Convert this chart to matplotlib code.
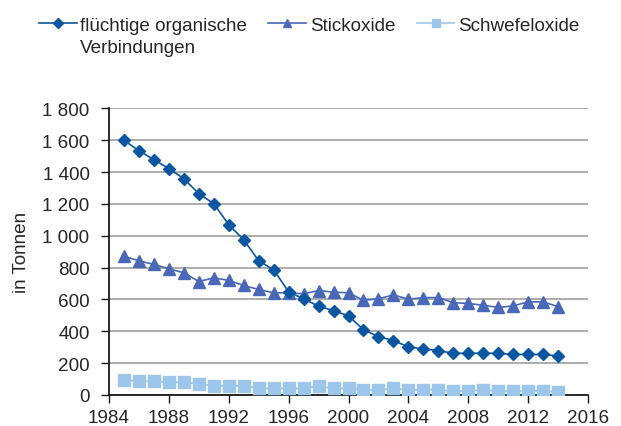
import matplotlib
matplotlib.use("Agg")
import matplotlib.pyplot as plt
from matplotlib.ticker import FuncFormatter

plt.rcParams['font.family'] = ['Liberation Sans', 'DejaVu Sans']

years = list(range(1985, 2015))
voc = [1600, 1535, 1479, 1422, 1359, 1265, 1202, 1070, 975, 843,
       787, 648, 604, 558, 530, 497, 410, 367, 342, 302,
       290, 279, 262, 262, 262, 262, 255, 255, 255, 245]
nox = [872, 843, 820, 793, 768, 713, 736, 720, 688, 663,
       642, 642, 636, 656, 646, 642, 595, 604, 629, 602,
       612, 612, 580, 575, 564, 550, 560, 585, 585, 555]
sox = [96, 86, 86, 80, 80, 69, 59, 59, 59, 42,
       42, 42, 42, 55, 42, 42, 31, 31, 42, 31,
       33, 33, 25, 25, 33, 25, 25, 25, 27, 17]
labels = ["flüchtige organische", "Stickoxide", "Schwefeloxide"]
label_cont = "Verbindungen"
xticks = [1984, 1988, 1992, 1996, 2000, 2004, 2008, 2012, 2016]
yticks = [0, 200, 400, 600, 800, 1000, 1200, 1400, 1600, 1800]

fs = 13.6
fig = plt.figure(figsize=(6.21, 4.27), dpi=100)
ax = fig.add_axes([0.1755, 0.0726, 0.7714, 0.671])

c_voc = "#0A56A0"
c_nox = "#4A68B8"
c_sox = "#9DC7EA"

ax.plot(years, sox, color=c_sox, marker="s", markersize=8, lw=1.2, label=labels[2], zorder=3)
ax.plot(years, nox, color=c_nox, marker="^", markersize=8.5, lw=1.2, label=labels[1], zorder=4)
ax.plot(years, voc, color=c_voc, marker="D", markersize=6.5, lw=1.2, label=labels[0], zorder=5)

ax.set_xlim(1984, 2016)
ax.set_ylim(0, 1800)
ax.set_xticks(xticks)
ax.set_yticks(yticks)
ax.yaxis.set_major_formatter(FuncFormatter(lambda v, p: f"{int(v):,}".replace(",", " ")))
ax.grid(axis="y", color="#A6A6A6", lw=1.3)
ax.set_axisbelow(True)
for s in ["top", "right"]:
    ax.spines[s].set_visible(False)
for s in ["left", "bottom"]:
    ax.spines[s].set_color("#1a1a1a")
    ax.spines[s].set_linewidth(1.3)
ax.tick_params(axis="both", labelsize=fs, colors="#1a1a1a", length=6, width=1)
ax.tick_params(axis="y", pad=8)
ax.tick_params(axis="x", pad=4)
ax.tick_params(axis="both", labelcolor="#262626")
ax.set_ylabel("in Tonnen", fontsize=fs, color="#262626", labelpad=9)

h, l = ax.get_legend_handles_labels()
order = [2, 1, 0]
leg = fig.legend([h[i] for i in order], [l[i] for i in order], loc="upper left",
                 bbox_to_anchor=(0.035, 0.998), ncol=3, frameon=False, fontsize=fs,
                 handlelength=2.0, handletextpad=0.2, columnspacing=1.12,
                 labelcolor="#262626", markerscale=0.75)

fig.canvas.draw()
bb = leg.get_texts()[0].get_window_extent()
inv = fig.transFigure.inverted()
x0, y0 = inv.transform((bb.x0, bb.y0))
fig.text(x0, y0 - 21.5 / 427, label_cont, fontsize=fs, color="#262626",
         ha="left", va="bottom")

fig.savefig("out.png", dpi=100)
